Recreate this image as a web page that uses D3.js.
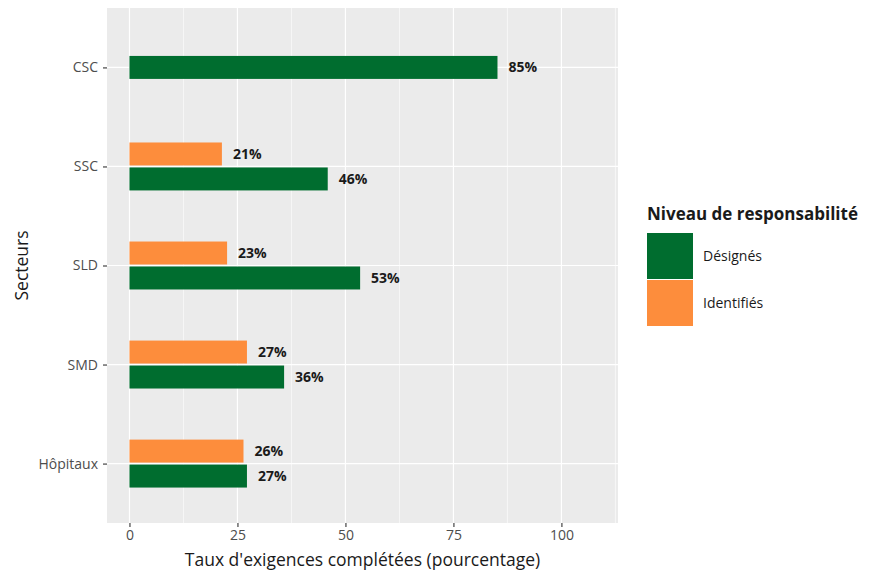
<!DOCTYPE html>
<html><head><meta charset="utf-8">
<script src="https://cdn.jsdelivr.net/npm/d3@7"></script>
<style>body{margin:0;background:#fff}text{font-family:"Open Sans",Lato,sans-serif}</style>
</head><body><svg id="c" width="872" height="573"></svg>
<script>
const categories = ["CSC","SSC","SLD","SMD","Hôpitaux"];
const designes = [85.2, 45.9, 53.4, 35.8, 27.2];
const identifies = [null, 21.4, 22.6, 27.2, 26.4];
const seriesNames = ["Désignés","Identifiés"];
const colors = ["#006D2F","#FD8D3C"];
const xTicks = [0,25,50,75,100];
const xMinor = [12.5,37.5,62.5,87.5,112.5];

const FONT = "'Open Sans', Lato, sans-serif";
const svg = d3.select("#c");
const P = {l:107, r:618, t:8, b:523};
const x = d3.scaleLinear().domain([-5.2, 113.1]).range([P.l, P.r]);
const y = d3.scalePoint().domain(categories).range([P.t, P.b]).padding(0.6);
const step = y.step();
const bh = step*0.232;

svg.append("rect").attr("x",P.l).attr("y",P.t).attr("width",P.r-P.l).attr("height",P.b-P.t).attr("fill","#EBEBEB");
svg.selectAll(".mn").data(xMinor).enter().append("line")
  .attr("x1",d=>x(d)).attr("x2",d=>x(d)).attr("y1",P.t).attr("y2",P.b)
  .attr("stroke","#fff").attr("stroke-width",0.6);
svg.selectAll(".mj").data(xTicks).enter().append("line")
  .attr("x1",d=>x(d)).attr("x2",d=>x(d)).attr("y1",P.t).attr("y2",P.b)
  .attr("stroke","#fff").attr("stroke-width",1.2);
svg.selectAll(".hy").data(categories).enter().append("line")
  .attr("x1",P.l).attr("x2",P.r).attr("y1",d=>y(d)).attr("y2",d=>y(d))
  .attr("stroke","#fff").attr("stroke-width",1.2);

const bars = [];
categories.forEach((c,i)=>{
  const hasI = identifies[i]!=null;
  if(hasI){
    bars.push({c, v:identifies[i], s:1, yc:y(c)-bh/2-1});
    bars.push({c, v:designes[i], s:0, yc:y(c)+bh/2+1});
  } else {
    bars.push({c, v:designes[i], s:0, yc:y(c)});
  }
});
svg.selectAll(".bar").data(bars).enter().append("rect")
  .attr("x",x(0)).attr("width",d=>x(d.v)-x(0))
  .attr("y",d=>d.yc-bh/2).attr("height",bh).attr("fill",d=>colors[d.s]);
svg.selectAll(".lbl").data(bars).enter().append("text")
  .attr("x",d=>x(d.v)+11).attr("y",d=>d.yc).attr("dy","0.36em")
  .attr("font-size",14).attr("font-weight","bold").attr("fill","#1a1a1a")
  .text(d=>Math.round(d.v)+"%");

// axes
const xa = svg.append("g").attr("transform",`translate(0,${P.b})`)
  .call(d3.axisBottom(x).tickValues(xTicks).tickSize(4).tickPadding(3));
xa.select(".domain").remove();
xa.selectAll("line").attr("stroke","#333").attr("stroke-width",1.1);
xa.selectAll("text").attr("font-size",14).attr("fill","#4D4D4D").attr("font-family",FONT);
const ya = svg.append("g").attr("transform",`translate(${P.l},0)`)
  .call(d3.axisLeft(y).tickSize(4).tickPadding(5));
ya.select(".domain").remove();
ya.selectAll("line").attr("stroke","#333").attr("stroke-width",1.1);
ya.selectAll("text").attr("font-size",14).attr("fill","#4D4D4D").attr("font-family",FONT);

svg.append("text").attr("x",(P.l+P.r)/2).attr("y",566).attr("text-anchor","middle")
  .attr("font-size",17.5).attr("fill","#1a1a1a").text("Taux d'exigences complétées (pourcentage)");
svg.append("text").attr("transform",`translate(28,${(P.t+P.b)/2}) rotate(-90)`).attr("text-anchor","middle")
  .attr("font-size",17.5).attr("fill","#1a1a1a").text("Secteurs");

// legend
const lg = svg.append("g");
lg.append("text").attr("x",647).attr("y",220).attr("font-size",17).attr("font-weight","bold")
  .attr("fill","#1a1a1a").text("Niveau de responsabilité");
seriesNames.forEach((n,i)=>{
  lg.append("rect").attr("x",647).attr("y",233+i*47).attr("width",46).attr("height",46).attr("fill",colors[i]);
  lg.append("text").attr("x",703).attr("y",256+i*47).attr("dy","0.36em").attr("font-size",14)
    .attr("fill","#1a1a1a").text(n);
});
</script></body></html>
